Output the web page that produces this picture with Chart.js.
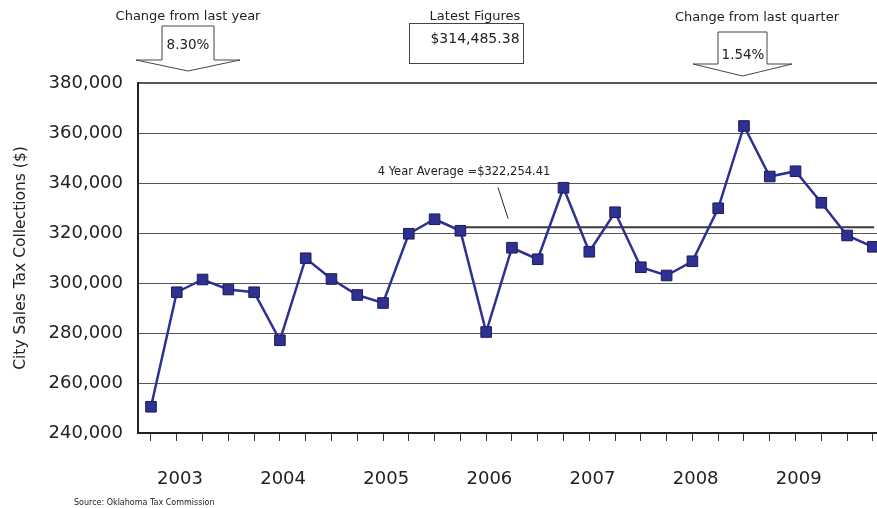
<!DOCTYPE html>
<html>
<head>
<meta charset="utf-8">
<script src="https://cdn.jsdelivr.net/npm/chart.js@4.4.1/dist/chart.umd.min.js"></script>
<style>
  html, body { margin: 0; padding: 0; background: #fff; overflow: hidden; }
  #wrap { width: 877px; height: 508px; }
</style>
</head>
<body>
<div id="wrap"><canvas id="taxChart" width="877" height="508"></canvas></div>
<script>
// quarterly city sales tax collections
const quarters = [
  '2003 Q1', '2003 Q2', '2003 Q3', '2003 Q4',
  '2004 Q1', '2004 Q2', '2004 Q3', '2004 Q4',
  '2005 Q1', '2005 Q2', '2005 Q3', '2005 Q4',
  '2006 Q1', '2006 Q2', '2006 Q3', '2006 Q4',
  '2007 Q1', '2007 Q2', '2007 Q3', '2007 Q4',
  '2008 Q1', '2008 Q2', '2008 Q3', '2008 Q4',
  '2009 Q1', '2009 Q2', '2009 Q3', '2009 Q4',
  '2010 Q1'
];
const collections = [
  250500, 296300, 301400, 297400,
  296300, 277100, 309900, 301600,
  295200, 292000, 319700, 325500,
  320900, 280400, 314100, 309500,
  338100, 312500, 328300, 306300,
  303000, 308700, 329900, 362800,
  342600, 344700, 332100, 319000,
  314485.38
];
const fourYearAverage = 322254.41;
const averageSpan = [11.85, 28.05];       // quarter index where the average line starts / ends

const yearLabels = ['2003', '2004', '2005', '2006', '2007', '2008', '2009'];
const yearPositions = [1.125, 5.125, 9.125, 13.125, 17.125, 21.125, 25.125];

const yTicksMin = 240000;
const yTicksMax = 380000;
const yTicksStep = 20000;

Chart.defaults.font.family = "'DejaVu Sans', sans-serif";
Chart.defaults.color = '#222';

// kotak dan panah di bagian atas + label tahun
function downArrow(ctx, cx, top, shaftHalf, shaftBottom, headHalf, tip) {
  ctx.beginPath();
  ctx.moveTo(cx - shaftHalf, top);
  ctx.lineTo(cx + shaftHalf, top);
  ctx.lineTo(cx + shaftHalf, shaftBottom);
  ctx.lineTo(cx + headHalf, shaftBottom);
  ctx.lineTo(cx, tip);
  ctx.lineTo(cx - headHalf, shaftBottom);
  ctx.lineTo(cx - shaftHalf, shaftBottom);
  ctx.closePath();
  ctx.stroke();
}

const annotations = {
  id: 'annotations',
  afterDraw(chart) {
    const { ctx, scales: { x, y } } = chart;
    ctx.save();
    ctx.fillStyle = '#222';
    ctx.strokeStyle = '#444';
    ctx.lineWidth = 1;
    ctx.textAlign = 'center';
    ctx.textBaseline = 'middle';

    // year labels under the axis
    ctx.font = "18px 'DejaVu Sans'";
    yearLabels.forEach((lbl, i) => {
      ctx.fillText(lbl, x.getPixelForValue(yearPositions[i]), 479);
    });

    // header boxes
    ctx.font = "13px 'DejaVu Sans'";
    ctx.fillText('Change from last year', 188, 17);
    ctx.fillText('Latest Figures', 475, 17);
    ctx.fillText('Change from last quarter', 757, 18);

    downArrow(ctx, 188, 26, 26, 60, 52, 71);
    downArrow(ctx, 742.5, 32, 24.5, 64, 49.5, 76);
    ctx.strokeRect(409.5, 23.5, 114, 40);

    ctx.font = "13.5px 'DejaVu Sans'";
    ctx.fillText('8.30%', 188, 45);
    ctx.fillText('1.54%', 743, 55);
    ctx.font = "14px 'DejaVu Sans'";
    ctx.fillText('$314,485.38', 475, 39);

    // 4 year average label and pointer
    ctx.font = "11.5px 'DejaVu Sans'";
    ctx.fillText('4 Year Average =$322,254.41', x.getPixelForValue(12.14), y.getPixelForValue(344200));
    ctx.strokeStyle = '#222';
    ctx.beginPath();
    ctx.moveTo(x.getPixelForValue(13.46), y.getPixelForValue(338200));
    ctx.lineTo(x.getPixelForValue(13.85), y.getPixelForValue(325800));
    ctx.stroke();

    // source
    ctx.textAlign = 'left';
    ctx.font = "8px 'DejaVu Sans'";
    ctx.fillText('Source: Oklahoma Tax Commission', 74, 503);
    ctx.restore();
  }
};

const ctx = document.getElementById('taxChart');

new Chart(ctx, {
  type: 'line',
  data: {
    datasets: [
      {
        label: 'City Sales Tax Collections',
        data: collections.map((v, i) => ({ x: i, y: v })),
        borderColor: '#2E3192',
        borderWidth: 2.5,
        pointStyle: 'rect',
        pointRadius: 7.5,
        pointBackgroundColor: '#2E3192',
        pointBorderColor: '#1c1d5c',
        pointBorderWidth: 1,
        tension: 0,
        order: 0
      },
      {
        label: '4 Year Average',
        data: averageSpan.map(q => ({ x: q, y: fourYearAverage })),
        borderColor: '#3a3a3a',
        borderWidth: 2,
        pointRadius: 0,
        order: 1
      }
    ]
  },
  options: {
    responsive: false,
    animation: false,
    devicePixelRatio: 1,
    layout: { autoPadding: false, padding: { top: 83, bottom: 67, left: 0, right: 0 } },
    plugins: {
      legend: { display: false },
      tooltip: { enabled: false }
    },
    scales: {
      x: {
        type: 'linear',
        min: -0.504,
        max: 28.16,
        afterBuildTicks: (scale) => {
          scale.ticks = quarters.map((q, i) => ({ value: i }));
        },
        ticks: { display: false },
        grid: { drawOnChartArea: false, drawTicks: true, tickLength: 8, color: '#333', lineWidth: 1 },
        border: { color: '#222', width: 2 }
      },
      y: {
        min: yTicksMin,
        max: yTicksMax,
        afterFit: (scale) => { scale.width = 138; },
        ticks: {
          stepSize: yTicksStep,
          padding: 15,
          font: { size: 18 },
          color: '#222',
          callback: (v) => v.toLocaleString('en-US')
        },
        grid: {
          drawTicks: false,
          color: '#555',
          lineWidth: (c) => (c.tick && c.tick.value === yTicksMax ? 2 : 1)
        },
        border: { color: '#222', width: 2 },
        title: {
          display: true,
          text: 'City Sales Tax Collections ($)',
          font: { size: 15.5 },
          color: '#222',
          padding: { top: 11.5, bottom: 0 }
        }
      }
    }
  },
  plugins: [annotations]
});
</script>
</body>
</html>
